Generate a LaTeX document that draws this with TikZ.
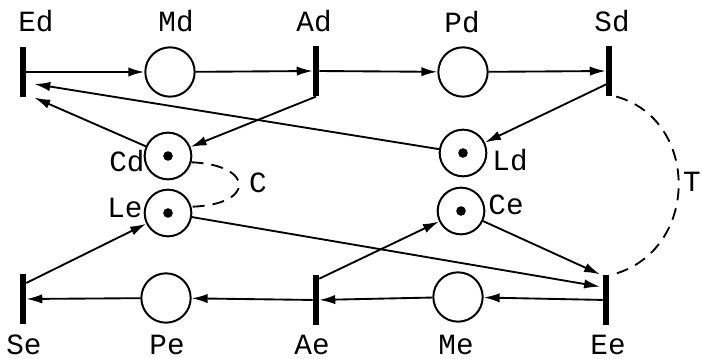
\documentclass[tikz,border=0pt]{standalone}
\usepackage{fontspec}
\setmonofont{Liberation Mono}
\usetikzlibrary{arrows.meta}

\tikzset{
	place/.style={draw, circle, line width=1.5pt, minimum size=37pt, inner sep=0pt},
	marked/.style={place, minimum size=35pt, path picture={\fill (path picture bounding box.center) circle (3.6pt);}},
	trans/.style={fill=black, rectangle, minimum width=4.5pt, minimum height=38pt, inner sep=0pt},
	flow/.style={line width=1.4pt, -{Latex[length=12pt,width=7pt]}},
	link/.style={line width=1.4pt, dash pattern={on 9pt off 6pt}},
	lbl/.style={font=\ttfamily\fontsize{22}{26}\selectfont, inner sep=0.75pt}
}

\begin{document}
\begin{tikzpicture}[x=0.75pt,y=0.75pt,yscale=-1,xscale=1]
	\useasboundingbox (0,0) rectangle (702,359);

	%Transitions
	\node[trans] (Ed) at (23,72) {};
	\node[trans] (Ad) at (316,71) {};
	\node[trans] (Sd) at (609,71) {};
	\node[trans] (Se) at (23,299) {};
	\node[trans] (Ae) at (316,300) {};
	\node[trans] (Ee) at (606,300) {};

	%Places
	\node[place] (Md) at (170,72) {};
	\node[place] (Pd) at (463,72) {};
	\node[marked] (Cd) at (168,156) {};
	\node[marked] (Le) at (168,213) {};
	\node[marked] (Ld) at (463,153) {};
	\node[marked] (Ce) at (461,211) {};
	\node[place] (Pe) at (166,298) {};
	\node[place] (Me) at (458,297) {};

	%Upper row (shifts are flipped by yscale=-1: positive goes down)
	\draw[flow] (Ed) -- (Md);
	\draw[flow] (Md) -- (Ad);
	\draw[flow] (Ad) -- (Pd);
	\draw[flow] (Pd) -- (Sd);
	\draw[flow] (Ad.south) -- (Cd);
	\draw[flow] ([yshift=9pt]Sd.center) -- (Ld);
	\draw[flow] (Cd) -- ([xshift=6pt]Ed.south east);
	\draw[flow] (Ld) -- ([xshift=6pt,yshift=9pt]Ed.east);

	%Lower row
	\draw[flow] (Ee) -- (Me);
	\draw[flow] (Me) -- (Ae);
	\draw[flow] (Ae) -- (Pe);
	\draw[flow] (Pe) -- (Se);
	\draw[flow] ([yshift=-12pt]Se.east) -- (Le);
	\draw[flow] ([yshift=-16pt]Ae.east) -- (Ce);
	\draw[flow] (Le) -- ([xshift=-2pt,yshift=-10pt]Ee.west);
	\draw[flow] (Ce) -- ([xshift=-2pt]Ee.north west);

	%Dashed links
	\draw[link] (Cd.-15) .. controls (255,165) and (255,205) .. (Le.15);
	\draw[link] ([xshift=3pt]Sd.south east) .. controls (700,120) and (700,250) .. ([xshift=3pt]Ee.north east);

	% Text Node
	\node[lbl] (tEd) at (36,21) {Ed};
	\node[lbl] (tMd) at (176,21) {Md};
	\node[lbl] (tAd) at (314,21) {Ad};
	\node[lbl] (tPd) at (462,22) {Pd};
	\node[lbl] (tSd) at (612,21) {Sd};
	\node[lbl] (tSe) at (24,345) {Se};
	\node[lbl] (tPe) at (167,345) {Pe};
	\node[lbl] (tAe) at (312,345) {Ae};
	\node[lbl] (tMe) at (456,345) {Me};
	\node[lbl] (tEe) at (608,345) {Ee};
	\node[lbl] (tCd) at (127,161) {Cd};
	\node[lbl] (tLe) at (125,208) {Le};
	\node[lbl] (tLd) at (510,160) {Ld};
	\node[lbl] (tCe) at (506,205) {Ce};
	\node[lbl] (tC) at (258,183) {C};
	\node[lbl] (tT) at (692,182) {T};
\end{tikzpicture}
\end{document}
